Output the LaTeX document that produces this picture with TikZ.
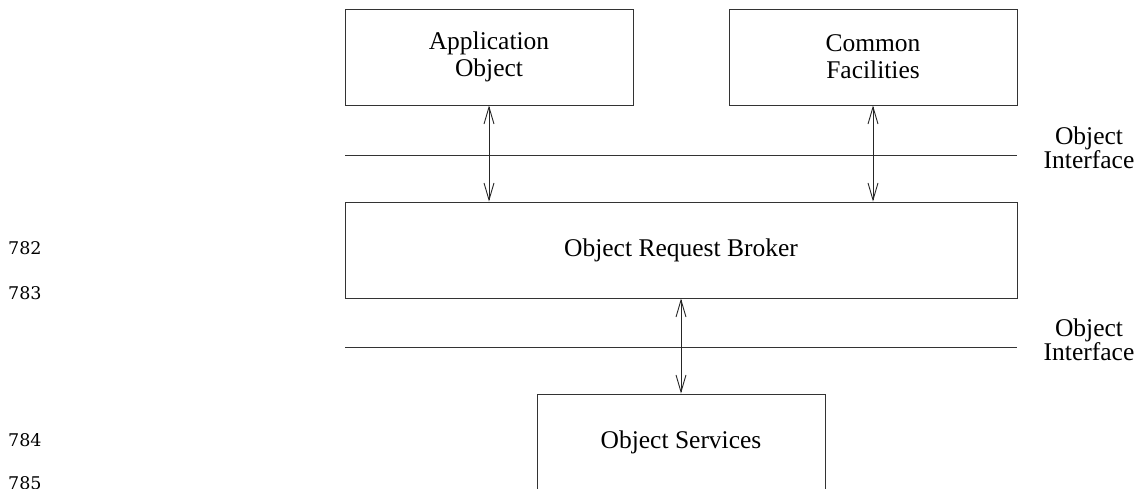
\documentclass[tikz,border=0pt]{standalone}
\usepackage{fontspec}
\setmainfont{Liberation Serif}
\newfontfamily\numfont{DejaVu Serif}
\usetikzlibrary{arrows.meta}
\tikzset{
  box/.style={draw=black!80, line width=0.9pt, minimum width=288pt, minimum height=96pt, inner sep=0pt, align=center, font=\fontsize{25.5}{27}\selectfont},
  rule/.style={draw=black!80, line width=0.9pt},
  arr/.style={draw=black!85, line width=0.9pt, {Straight Barb[length=17pt,width=10pt]}-{Straight Barb[length=17pt,width=10pt]}},
  lbl/.style={align=center, inner sep=0pt, font=\fontsize{25.5}{24}\selectfont},
  lnum/.style={anchor=west, inner sep=0pt, font=\numfont\fontsize{17.5}{17.5}\selectfont}
}
\begin{document}
\begin{tikzpicture}[x=1pt,y=-1pt]
\useasboundingbox (0,0) rectangle (1137,489);
\clip (0,0) rectangle (1137,489);
\node[box] (app) at (489,57) {Application\\Object};
\node[box] (cf) at (873,57) {Common\\Facilities};
\node[box, minimum width=672pt] (orb) at (681,250) {Object Request Broker};
\node[box] (os) at (681,442) {Object Services};
\coordinate (l1a) at (345,155);
\coordinate (l1b) at (1017,155);
\coordinate (l2a) at (345,347);
\coordinate (l2b) at (1017,347);
\draw[rule] (l1a) -- (l1b);
\draw[rule] (l2a) -- (l2b);
\draw[arr] (app.south) -- (app.south |- orb.north);
\draw[arr] (cf.south) -- (cf.south |- orb.north);
\draw[arr] (orb.south) -- (os.north);
\node[lbl] (oi1) at (1089,148) {Object\\Interface};
\node[lbl] (oi2) at (1089,340) {Object\\Interface};
\node[lnum] (n782) at (8,248) {782};
\node[lnum] (n783) at (8,293) {783};
\node[lnum] (n784) at (8,440) {784};
\node[lnum] (n785) at (8,483) {785};
\end{tikzpicture}
\end{document}
